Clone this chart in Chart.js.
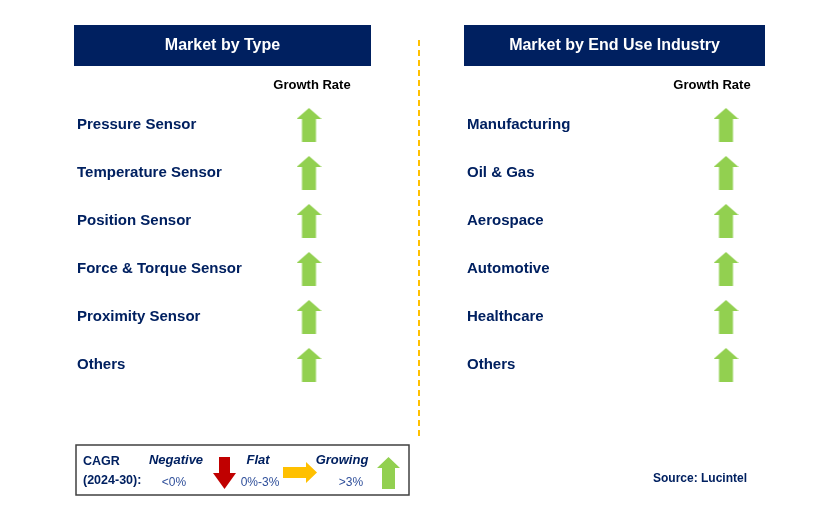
<!DOCTYPE html>
<html>
<head>
<meta charset="utf-8">
<script src="https://cdn.jsdelivr.net/npm/chart.js@4.4.0/dist/chart.umd.min.js"></script>
<style>
  body { margin: 0; background: #fff; }
  #wrap { position: relative; width: 829px; height: 522px; }
  canvas { position: absolute; top: 0; }
  #typeChart { left: 0; }
  #industryChart { left: 414px; }
</style>
</head>
<body>
<div id="wrap">
  <canvas id="typeChart" width="414" height="522"></canvas>
  <canvas id="industryChart" width="415" height="522"></canvas>
</div>
<script>
const typeCategories = ["Pressure Sensor", "Temperature Sensor", "Position Sensor", "Force & Torque Sensor", "Proximity Sensor", "Others"];
const typeTrend = ["growing", "growing", "growing", "growing", "growing", "growing"];

const industryCategories = ["Manufacturing", "Oil & Gas", "Aerospace", "Automotive", "Healthcare", "Others"];
const industryTrend = ["growing", "growing", "growing", "growing", "growing", "growing"];

const columnLabel = ["Growth Rate"];
const legendLabels = ["Negative", "Flat", "Growing"];
const legendRanges = ["<0%", "0%-3%", ">3%"];

const NAVY = "#002060";
const FONT = "'Liberation Sans', Arial, sans-serif";

// arrow drawn pointing up, then rotated
function drawArrow(ctx, cx, cy, len, breadth, headLen, shaft, angle, color) {
    ctx.save();
    ctx.translate(cx, cy);
    ctx.rotate(angle);
    ctx.beginPath();
    ctx.moveTo(0, -len / 2);
    ctx.lineTo(breadth / 2, -len / 2 + headLen);
    ctx.lineTo(shaft / 2, -len / 2 + headLen);
    ctx.lineTo(shaft / 2, len / 2);
    ctx.lineTo(-shaft / 2, len / 2);
    ctx.lineTo(-shaft / 2, -len / 2 + headLen);
    ctx.lineTo(-breadth / 2, -len / 2 + headLen);
    ctx.closePath();
    ctx.fillStyle = color;
    ctx.fill();
    ctx.restore();
}

function arrowImage(len, breadth, headLen, shaft, angle, color) {
    const c = document.createElement("canvas");
    const horiz = Math.abs(Math.sin(angle)) > 0.5;
    c.width = horiz ? len : breadth;
    c.height = horiz ? breadth : len;
    drawArrow(c.getContext("2d"), c.width / 2, c.height / 2, len, breadth, headLen, shaft, angle, color);
    return c;
}

const arrowImages = {
    growing: arrowImage(34, 25, 11, 14, 0, "#92d050"),
    flat: arrowImage(34, 21, 11, 11, Math.PI / 2, "#ffc000"),
    negative: arrowImage(32, 23, 16, 11, Math.PI, "#c00000")
};

function header(ctx, x, w, text) {
    ctx.fillStyle = NAVY;
    ctx.fillRect(x, 25, w, 41);
    ctx.fillStyle = "#fff";
    ctx.font = "bold 16px " + FONT;
    ctx.textAlign = "center";
    ctx.textBaseline = "middle";
    ctx.fillText(text, x + w / 2, 46);
}

const typeDeco = {
    id: "typeDeco",
    beforeDraw(chart) {
        const ctx = chart.ctx;
        ctx.save();
        header(ctx, 74, 297, "Market by Type");

        // CAGR legend box
        ctx.strokeStyle = "#404040";
        ctx.lineWidth = 1.5;
        ctx.strokeRect(76, 445, 333, 50);

        ctx.fillStyle = NAVY;
        ctx.textBaseline = "middle";
        ctx.textAlign = "left";
        ctx.font = "bold 12.5px " + FONT;
        ctx.fillText("CAGR", 83, 462);
        ctx.fillText("(2024-30):", 83, 481);

        const labelX = [176, 258, 342];
        const rangeX = [174, 260, 351];
        ctx.textAlign = "center";
        legendLabels.forEach((l, i) => {
            ctx.fillStyle = NAVY;
            ctx.font = "italic bold 13px " + FONT;
            ctx.fillText(l, labelX[i], 460);
            ctx.fillStyle = "#2f4f9a";
            ctx.font = "12px " + FONT;
            ctx.fillText(legendRanges[i], rangeX[i], 483);
        });

        drawArrow(ctx, 224.5, 473, 32, 23, 16, 11, Math.PI, "#c00000");
        drawArrow(ctx, 300, 472.5, 34, 21, 11, 11, Math.PI / 2, "#ffc000");
        drawArrow(ctx, 388.5, 473, 32, 23, 11, 13, 0, "#92d050");
        ctx.restore();
    }
};

const industryDeco = {
    id: "industryDeco",
    beforeDraw(chart) {
        const ctx = chart.ctx;
        ctx.save();
        header(ctx, 50, 301, "Market by End Use Industry");

        // dashed divider
        ctx.strokeStyle = "#ffc000";
        ctx.lineWidth = 2;
        ctx.setLineDash([6, 4]);
        ctx.beginPath();
        ctx.moveTo(5, 40);
        ctx.lineTo(5, 436);
        ctx.stroke();
        ctx.setLineDash([]);

        ctx.fillStyle = NAVY;
        ctx.font = "bold 12px " + FONT;
        ctx.textAlign = "left";
        ctx.textBaseline = "middle";
        ctx.fillText("Source: Lucintel", 239, 479);
        ctx.restore();
    }
};

function buildPanel(canvasId, categories, trend, o, deco) {
    return new Chart(document.getElementById(canvasId), {
        type: "scatter",
        data: {
            datasets: [{
                data: categories.map(c => ({ x: columnLabel[0], y: c })),
                pointStyle: (ctx) => arrowImages[trend[ctx.dataIndex]],
                pointRadius: 12
            }]
        },
        options: {
            responsive: false,
            animation: false,
            events: [],
            layout: { padding: { left: o.left, right: o.right, top: 71, bottom: 133 } },
            plugins: { legend: { display: false }, tooltip: { enabled: false } },
            scales: {
                x: {
                    type: "category",
                    labels: columnLabel,
                    position: "top",
                    offset: true,
                    grid: { display: false, drawTicks: false },
                    border: { display: false },
                    ticks: {
                        padding: 8,
                        labelOffset: o.labelShift,
                        color: "#000",
                        font: { family: FONT, size: 13, weight: "bold" }
                    },
                    afterFit: (s) => { s.height = 30; }
                },
                y: {
                    type: "category",
                    labels: categories,
                    offset: true,
                    grid: { display: false, drawTicks: false },
                    border: { display: false },
                    ticks: {
                        crossAlign: "far",
                        color: NAVY,
                        font: { family: FONT, size: 15, weight: "bold" }
                    },
                    afterFit: (s) => { s.width = o.axisWidth; }
                }
            }
        },
        plugins: [deco]
    });
}

buildPanel("typeChart", typeCategories, typeTrend, { left: 77, right: 55, axisWidth: 182, labelShift: 3 }, typeDeco);
buildPanel("industryChart", industryCategories, industryTrend, { left: 53, right: 53, axisWidth: 209, labelShift: -14 }, industryDeco);
</script>
</body>
</html>
